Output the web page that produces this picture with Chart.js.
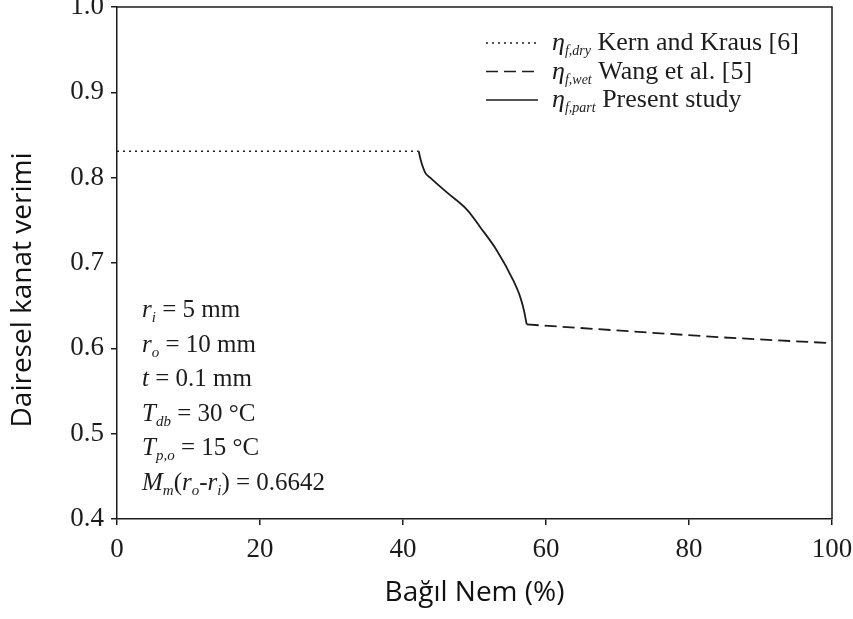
<!DOCTYPE html>
<html><head><meta charset="utf-8">
<script src="https://cdn.jsdelivr.net/npm/chart.js@4.4.1/dist/chart.umd.min.js"></script>
<style>html,body{margin:0;padding:0;background:#fff}#wrap{width:853px;height:619px}</style>
</head><body><div id="wrap"><canvas id="c" width="853" height="619"></canvas></div>
<script>
const dryX = [0, 42.2];
const dryY = [0.831, 0.831];
const partX = [42.2, 42.5, 43.1, 43.8, 46.1, 49.0, 50.8, 53.1, 55.4, 56.4, 56.9, 57.3];
const partY = [0.831, 0.820, 0.806, 0.800, 0.783, 0.762, 0.742, 0.715, 0.680, 0.660, 0.645, 0.628];
const wetX = [57.3, 84.3, 100];
const wetY = [0.628, 0.613, 0.606];
const xTicks = [0, 20, 40, 60, 80, 100];
const yTicks = [0.4, 0.5, 0.6, 0.7, 0.8, 0.9, 1.0];
const xTitle = 'Bağıl Nem (%)';
const yTitle = 'Dairesel kanat verimi';
const legendItems = [
  {sym: 'η', sub: 'f,dry', text: ' Kern and Kraus [6]', dash: [2, 4]},
  {sym: 'η', sub: 'f,wet', text: ' Wang et al. [5]', dash: [12, 6]},
  {sym: 'η', sub: 'f,part', text: ' Present study', dash: []}
];
const notes = [
  [['i','r'],['si','i'],['n',' = 5 mm']],
  [['i','r'],['si','o'],['n',' = 10 mm']],
  [['i','t'],['n',' = 0.1 mm']],
  [['i','T'],['si','db'],['n',' = 30 °C']],
  [['i','T'],['si','p,o'],['n',' = 15 °C']],
  [['i','M'],['si','m'],['n','('],['i','r'],['si','o'],['n','-'],['i','r'],['si','i'],['n',') = 0.6642']]
];

const pts = (xs, ys) => xs.map((x, i) => ({x, y: ys[i]}));
const INK = '#1c1c1c';
const SERIF = '"Liberation Serif", "DejaVu Serif", serif';
const SANS = '"Open Sans", sans-serif';

function drawRich(ctx, parts, x, y, size, subScale) {
  for (const [k, t] of parts) {
    if (k === 'si') {
      ctx.font = 'italic ' + Math.round(size * subScale) + 'px ' + SERIF;
      ctx.fillText(t, x, y + size * 0.2);
    } else {
      ctx.font = (k === 'i' ? 'italic ' : '') + size + 'px ' + SERIF;
      ctx.fillText(t, x, y);
    }
    x += ctx.measureText(t).width;
  }
}

const overlay = {
  id: 'overlay',
  afterDraw(chart) {
    const {ctx, chartArea: a} = chart;
    ctx.save();
    ctx.strokeStyle = INK; ctx.lineWidth = 1.5;
    ctx.beginPath();
    ctx.moveTo(a.left, a.top); ctx.lineTo(a.right, a.top); ctx.lineTo(a.right, a.bottom);
    ctx.stroke();
    // y title
    ctx.save();
    ctx.translate(23, 290);
    ctx.rotate(-Math.PI / 2);
    ctx.fillStyle = '#111';
    ctx.font = '28px ' + SANS;
    ctx.textAlign = 'center'; ctx.textBaseline = 'middle';
    ctx.fillText(yTitle, 0, 0);
    ctx.restore();
    // legend
    ctx.fillStyle = INK; ctx.textBaseline = 'alphabetic'; ctx.textAlign = 'left';
    legendItems.forEach((it, i) => {
      const cy = 43 + i * 28.5;
      ctx.setLineDash(it.dash);
      ctx.lineWidth = 1.5;
      ctx.beginPath(); ctx.moveTo(486, cy); ctx.lineTo(538, cy); ctx.stroke();
      ctx.setLineDash([]);
      drawRich(ctx, [['i', it.sym], ['si', it.sub], ['n', it.text]], 552, cy + 7, 26, 0.52);
    });
    notes.forEach((n, i) => {
      drawRich(ctx, n, 142, 317 + i * 34.6, 25, 0.6);
    });
    ctx.restore();
  }
};

new Chart(document.getElementById('c'), {
  type: 'line',
  data: {
    datasets: [
      {data: pts(dryX, dryY), borderColor: INK, borderWidth: 1.5, borderDash: [2, 4], pointRadius: 0, tension: 0},
      {data: pts(partX, partY), borderColor: INK, borderWidth: 1.8, pointRadius: 0, cubicInterpolationMode: 'monotone'},
      {data: pts(wetX, wetY), borderColor: INK, borderWidth: 1.8, borderDash: [12, 6], pointRadius: 0, tension: 0}
    ]
  },
  options: {
    responsive: false, animation: false, devicePixelRatio: 1,
    layout: {padding: {top: 7, right: 21, left: 0, bottom: 0}},
    plugins: {legend: {display: false}, tooltip: {enabled: false}},
    scales: {
      x: {
        type: 'linear', min: 0, max: 100,
        afterFit: s => { s.height = 100; s.paddingLeft = 0; s.paddingRight = 0; },
        afterBuildTicks: s => { s.ticks = xTicks.map(v => ({value: v})); },
        grid: {drawOnChartArea: false, drawTicks: true, tickLength: 6, color: INK, lineWidth: 1.5},
        border: {display: true, color: INK, width: 1.5},
        ticks: {color: INK, padding: 9, maxRotation: 0, font: {family: SERIF, size: 27}},
        title: {display: true, text: xTitle, color: '#111', font: {family: SANS, size: 28}, padding: {top: 0, bottom: 9}}
      },
      y: {
        type: 'linear', min: 0.4, max: 1.0,
        afterFit: s => { s.width = 117; s.paddingTop = 0; s.paddingBottom = 0; },
        afterBuildTicks: s => { s.ticks = yTicks.map(v => ({value: v})); },
        grid: {drawOnChartArea: false, drawTicks: true, tickLength: 6, color: INK, lineWidth: 1.5},
        border: {display: true, color: INK, width: 1.5},
        ticks: {color: INK, padding: 7, font: {family: SERIF, size: 27}, callback: v => Number(v).toFixed(1)}
      }
    }
  },
  plugins: [overlay]
});
</script></body></html>
